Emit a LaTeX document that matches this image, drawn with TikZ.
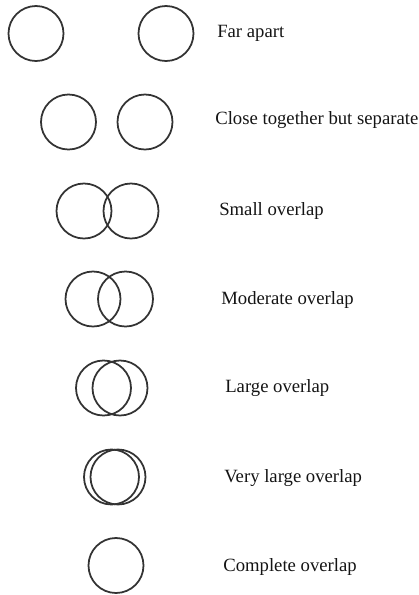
\documentclass[tikz,border=0pt]{standalone}
\usepackage{fontspec}
\setmainfont{Liberation Serif}
\usepackage{tikz}
\usetikzlibrary{positioning}
\definecolor{RingInk}{HTML}{333333}
\definecolor{LabelInk}{HTML}{141414}

\begin{document}
\begin{tikzpicture}[x=0.025cm,y=-0.025cm,
    ring/.style={draw=RingInk, circle, line width=1.25pt, inner sep=0pt, minimum size=1.375cm},
    caption/.style={anchor=west, inner sep=0pt, text=LabelInk, font=\fontsize{13.3}{16}\selectfont}]
    \useasboundingbox (0,0) rectangle (419,595);

    \node[ring] (farL) at (36,33.5) {};
    \node[ring] (farR) at (166,33.5) {};
    \node[caption] (farT) at (217,33) {Far apart};

    \node[ring] (closeL) at (68.5,122) {};
    \node[ring] (closeR) at (145,122) {};
    \node[caption] (closeT) at (215,120) {Close together but separate};

    \node[ring] (smallL) at (84,211) {};
    \node[ring] (smallR) at (131,211) {};
    \node[caption] (smallT) at (219,211) {Small overlap};

    \node[ring] (modL) at (93,299) {};
    \node[ring] (modR) at (125.5,299) {};
    \node[caption] (modT) at (221,300) {Moderate overlap};

    \node[ring] (largeL) at (103.5,388) {};
    \node[ring] (largeR) at (120,388) {};
    \node[caption] (largeT) at (225,388) {Large overlap};

    \node[ring] (vlargeL) at (111.5,477) {};
    \node[ring] (vlargeR) at (118,477) {};
    \node[caption] (vlargeT) at (224,478) {Very large overlap};

    \node[ring] (fullC) at (116,565.5) {};
    \node[caption] (fullT) at (223,567) {Complete overlap};
  \end{tikzpicture}
\end{document}
